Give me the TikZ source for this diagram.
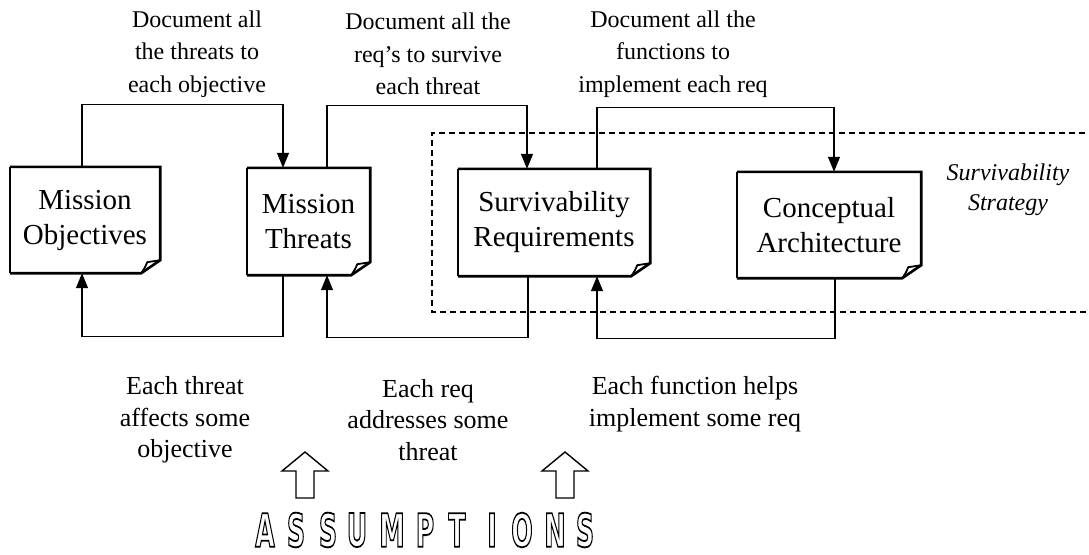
\documentclass[tikz,border=0pt]{standalone}
\usepackage{fontspec}
\setmainfont{Liberation Serif}
\newfontfamily\assfont{DejaVu Sans}
\usepackage{graphicx}
\usetikzlibrary{arrows.meta,calc}

\newcommand\docshape[1]{%
  \draw[line width=1.4pt] (#1.north west) -- (#1.south west);
  \draw[line width=2.6pt, line join=miter]
    (#1.north west) -- (#1.north east) -- ([yshift=13pt]#1.south east)
    -- ([xshift=-19pt]#1.south east) -- (#1.south west);
  \draw[line width=1.8pt, line join=round]
    ([xshift=-19pt]#1.south east) .. controls ([xshift=-15pt,yshift=6pt]#1.south east) .. ([xshift=-13pt,yshift=11pt]#1.south east)
    -- ([yshift=13pt]#1.south east);
}
\newcommand\outlined[1]{\special{pdf:literal direct 1 Tr 1.8 w}\scalebox{0.55}[1]{#1}\special{pdf:literal direct 0 Tr}}

\begin{document}
\begin{tikzpicture}[x=1pt,y=-1pt,
  boxtext/.style={align=center, font=\fontsize{29}{35}\selectfont, inner sep=0pt},
  lbl/.style={align=center, font=\fontsize{24}{32.5}\selectfont, inner sep=0pt},
  lblb/.style={align=center, font=\fontsize{26}{31.5}\selectfont, inner sep=0pt},
  conn/.style={line width=1.3pt, -{Triangle[width=12pt,length=15pt]}},
  frame/.style={line width=1.4pt, dash pattern=on 6pt off 4pt},
  blockarrow/.style={line width=1.4pt, line join=miter},
  letter/.style={inner sep=0pt, font=\assfont\bfseries\fontsize{46}{46}\selectfont}
]
\useasboundingbox (0,0) rectangle (1089,554);

% dashed strategy frame
\draw[frame] (1095,133) -- (432,133) -- (432,312) -- (1095,312);
\node[align=center, inner sep=0pt, font=\itshape\fontsize{24}{30}\selectfont] (strat) at (1008,190) {Survivability\\Strategy};

% boxes
\node[boxtext, minimum width=150pt, minimum height=106pt] (mo) at (85,220) {Mission\\Objectives};
\node[boxtext, minimum width=123pt, minimum height=107pt] (mt) at (308.5,221.5) {Mission\\Threats};
\node[boxtext, minimum width=192pt, minimum height=107pt] (sr) at (554,222.5) {Survivability\\Requirements};
\node[boxtext, minimum width=184pt, minimum height=106pt] (ca) at (829,225) {Conceptual\\Architecture};
\docshape{mo}
\docshape{mt}
\docshape{sr}
\docshape{ca}

% top connectors
\draw[conn] ([xshift=-3pt]mo.north) -- ++(0,-62) -| ([xshift=-25.5pt]mt.north);
\draw[conn] ([xshift=18.5pt]mt.north) -- ++(0,-62) -| ([xshift=-27pt]sr.north);
\draw[conn] ([xshift=43pt]sr.north) -- ++(0,-61) -| ([xshift=5pt]ca.north);

% bottom connectors
\draw[conn] ([xshift=-25.5pt]mt.south) -- ++(0,61) -| ([xshift=-3pt]mo.south);
\draw[conn] ([xshift=-26pt]sr.south) -- ++(0,61) -| ([xshift=18.5pt]mt.south);
\draw[conn] ([xshift=6pt]ca.south) -- ++(0,60) -| ([xshift=43pt]sr.south);

% labels
\node[lbl] (l1) at (197,54) {Document all\\the threats to\\each objective};
\node[lbl] (l2) at (428,54) {Document all the\\req's to survive\\each threat};
\node[lbl] (l3) at (673,54) {Document all the\\functions to\\implement each req};
\node[lblb] (l4) at (185,420) {Each threat\\affects some\\objective};
\node[lblb] (l5) at (428,420) {Each req\\addresses some\\threat};
\node[lblb] (l6) at (695,404) {Each function helps\\implement some req};

% assumption arrows
\foreach \cx in {305,565}{
  \draw[blockarrow] (\cx,452) -- (\cx+23,471) -- (\cx+9,471) -- (\cx+9,498)
    -- (\cx-9,498) -- (\cx-9,471) -- (\cx-23,471) -- cycle;
}

% ASSUMPTIONS outlined letters
\foreach \ch/\lx [count=\i] in {A/265,S/296,S/328,U/357,M/392,P/425,T/457,I/492,O/522,N/555,S/585}{
  \node[letter] (as\i) at (\lx,530) {\outlined{\ch}};
}
\end{tikzpicture}
\end{document}
